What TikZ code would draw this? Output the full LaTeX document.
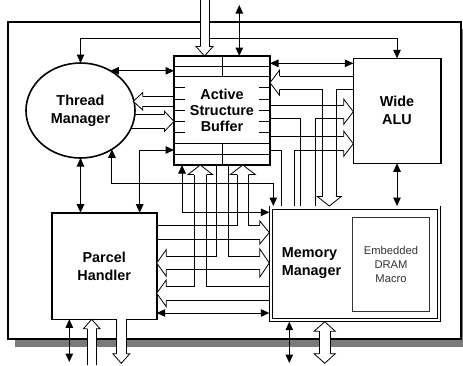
\documentclass[tikz,border=0pt]{standalone}
\usepackage{fontspec}
\setmainfont{Liberation Sans}
\usepackage{tikz}
\usetikzlibrary{arrows.meta,calc,shapes.geometric}

% hollow bus heads: tip, half width of the bus, half width of the head
\newcommand{\busR}[3]{\draw[bushead] ($(#1)+(-9.5,-#2)$) -- ($(#1)+(-9.5,-#3)$) -- (#1) -- ($(#1)+(-9.5,#3)$) -- ($(#1)+(-9.5,#2)$);}
\newcommand{\busL}[3]{\draw[bushead] ($(#1)+(9.5,-#2)$) -- ($(#1)+(9.5,-#3)$) -- (#1) -- ($(#1)+(9.5,#3)$) -- ($(#1)+(9.5,#2)$);}
\newcommand{\busU}[3]{\draw[bushead] ($(#1)+(-#2,9.5)$) -- ($(#1)+(-#3,9.5)$) -- (#1) -- ($(#1)+(#3,9.5)$) -- ($(#1)+(#2,9.5)$);}
\newcommand{\busD}[3]{\draw[bushead] ($(#1)+(-#2,-9.5)$) -- ($(#1)+(-#3,-9.5)$) -- (#1) -- ($(#1)+(#3,-9.5)$) -- ($(#1)+(#2,-9.5)$);}

\begin{document}
\begin{tikzpicture}[x=1pt, y=-1pt,
  unit/.style={rectangle, draw, line width=1.6pt, inner sep=0pt, outer sep=0pt, align=center, font=\fontsize{14.4}{18}\selectfont\bfseries},
  bus/.style={line width=0.8pt, line join=miter},
  bushead/.style={draw, fill=white, line width=0.8pt, line join=miter},
  gridline/.style={line width=0.7pt},
  biarrow/.style={<->, >={Triangle[length=8.5pt,width=7.5pt]}, line width=1pt},
]
\useasboundingbox (0,0) rectangle (463,365);

% chip frame with shadow
\fill[black!52] (15,29) rectangle (463,347);
\draw[line width=1.9pt, fill=white] (8,21.7) rectangle (461,339);

% free ends
\coordinate (topIO) at (239.3,5);
\coordinate (phIO) at (69.3,362);
\coordinate (mmIO) at (289.3,363);

% Blocks
\node[ellipse, draw, line width=1.6pt, minimum width=109, minimum height=95, inner sep=0pt, outer sep=0pt, align=center, font=\fontsize{14.4}{18}\selectfont\bfseries] (tm) at (80.5,110.5) {Thread\\Manager};
\node[unit, minimum width=96, minimum height=109, font=\fontsize{14.4}{16}\selectfont\bfseries] (asb) at (222,110.5) {Active\\Structure\\Buffer};
\node[unit, minimum width=87.4, minimum height=105] (alu) at (397,110.8) {Wide\\ALU};
\node[unit, minimum width=105, minimum height=106.6] (ph) at (104.2,266) {Parcel\\Handler};
\node[rectangle, draw, double, double distance=2.6pt, line width=0.8pt, inner sep=0pt, outer sep=1.7pt, minimum width=168, minimum height=112.3] (mm) at (355,263.85) {};
\node[anchor=west, align=left, inner sep=0pt, font=\fontsize{14.4}{18}\selectfont\bfseries] (mmlabel) at (281.7,263.3) {Memory\\Manager};
\node[rectangle, draw=black!80, line width=0.8pt, inner sep=0pt, minimum width=76.6, minimum height=93.7, align=center, text=black!80, font=\fontsize{11.2}{14}\selectfont] (dram) at (391,264.2) {Embedded\\DRAM\\Macro};

% ASB rows
\foreach \dy in {10.7,20.7,87.3,98}
  \draw[gridline] ($(asb.north west)+(0,\dy)$) -- ($(asb.north east)+(0,\dy)$);
\draw[gridline] (asb.north) -- ++(0,20.7);
\draw[gridline] (asb.south) -- ++(0,-21.7);
\foreach \dy in {31.8,42.9,54,65.1,76.2} {
  \draw[gridline] ($(asb.north west)+(0,\dy)$) -- ++(11,0);
  \draw[gridline] ($(asb.north east)+(0,\dy)$) -- ++(-11,0);
}

% broadcast line to Thread Manager and ALU
\draw[biarrow] (tm.north) -- ++(0,-24.7) -| (alu.north);

% external bus into ASB
\fill[white] (200,0) rectangle (209,46.5);
\draw[bus] (200,0) -- (200,46.5) (209,0) -- (209,46.5);
\busD{204.5,56}{4.5}{8.5}

% ASB <-> Thread Manager buses
\draw[bus] (174,96.6) -- (142.8,96.6) (174,106) -- (142.8,106);
\busL{133.3,101.3}{4.7}{8.8}
\draw[bus] (134.8,114.3) -- (164.5,114.3) (131,128.3) -- (164.5,128.3);
\busR{174,121.3}{7}{10}

% ALU -> ASB and Memory Manager
\draw[bus] (353.3,76) -- (279.5,76);
\draw[bus] (279.5,89.3) -- (322.7,89.3) -- (322.7,196.5);
\draw[bus] (353.3,89.3) -- (336,89.3) -- (336,196.5);
\busL{270,82.7}{6.65}{12.5}
\busD{329.3,206}{6.65}{12}

% ASB and Memory Manager -> ALU
\draw[bus] (270,105) -- (343.8,105);
\draw[bus] (270,118.3) -- (300.7,118.3) -- (300.7,206);
\draw[bus] (343.8,118.3) -- (315,118.3) -- (315,206);
\busR{353.3,111.7}{6.65}{12.5}
\draw[bus] (270,136.7) -- (343.8,136.7);
\draw[bus] (270,150.7) -- (281.7,150.7) -- (281.7,206);
\draw[bus] (343.8,150.7) -- (294.3,150.7) -- (294.3,206);
\busR{353.3,143.7}{7}{12.5}

% Memory Manager -> ASB and Parcel Handler
\draw[bus] (194,174.5) -- (194,286.7) -- (166.2,286.7);
\draw[bus] (206.7,174.5) -- (206.7,286.7) -- (269.3,286.7);
\draw[bus] (166.2,300) -- (269.3,300);
\busU{200.3,165}{6.35}{12.2}
\busL{156.7,293.3}{6.65}{13.3}

% ASB -> Parcel Handler and Memory Manager
\draw[bus] (216.7,165) -- (216.7,256.3) -- (166.2,256.3);
\draw[bus] (228.3,165) -- (228.3,256.3) -- (259.8,256.3);
\draw[bus] (166.2,269.7) -- (259.8,269.7);
\busL{156.7,263}{6.7}{13.3}
\busR{269.3,263}{6.7}{14}

% Parcel Handler -> ASB and Memory Manager
\draw[bus] (237.3,174.5) -- (237.3,225.7) -- (156.7,225.7);
\draw[bus] (248.3,174.5) -- (248.3,225.7) -- (259.8,225.7);
\draw[bus] (156.7,239.3) -- (259.8,239.3);
\busU{242.8,165}{5.5}{12.5}
\busR{269.3,232.5}{6.8}{11.5}

% external buses at the bottom
\fill[white] (87.3,328.8) rectangle (96.1,365);
\draw[bus] (87.3,328.8) -- (87.3,365) (96.1,328.8) -- (96.1,365);
\busU{91.7,319.3}{4.4}{8.4}
\fill[white] (116.6,319.3) rectangle (126,353.8);
\draw[bus] (116.6,319.3) -- (116.6,353.8) (126,319.3) -- (126,353.8);
\busD{121.3,363.3}{4.7}{8.4}
\fill[white] (319.35,331.2) rectangle (330.05,353.8);
\draw[bus] (319.35,331.2) -- (319.35,353.8) (330.05,331.2) -- (330.05,353.8);
\busU{324.7,321.7}{5.35}{10.5}
\busD{324.7,363.3}{5.35}{10.5}

% Control lines
\draw[biarrow] ($(asb.north)+(17.3,0)$) -- (topIO);
\draw[biarrow] (tm.53) -- (tm.53 -| asb.west);
\draw[biarrow] ($(asb.north east)+(0,7.3)$) -- ($(alu.north west)+(0,5)$);
\draw[biarrow] (tm.south) -- (tm.south |- ph.north);
\draw[biarrow] (tm.309) |- ($(mm.north west)+(4,-23)$) -- ($(mm.north west)+(4,0)$);
\draw[biarrow] ($(ph.north east)+(-17,0)$) |- ($(asb.south west)+(0,-15)$);
\draw[biarrow] ($(asb.south west)+(8,0)$) |- ($(mm.north west)+(0,6.3)$);
\draw[biarrow] (alu.south) -- (alu.south |- mm.north);
\draw[biarrow] ($(ph.south east)+(0,-6.3)$) -- ($(mm.south west)+(0,-8.7)$);
\draw[biarrow] ($(ph.south west)+(17.6,0)$) -- (phIO);
\draw[biarrow] ($(mm.south west)+(20,0)$) -- (mmIO);

\end{tikzpicture}
\end{document}
